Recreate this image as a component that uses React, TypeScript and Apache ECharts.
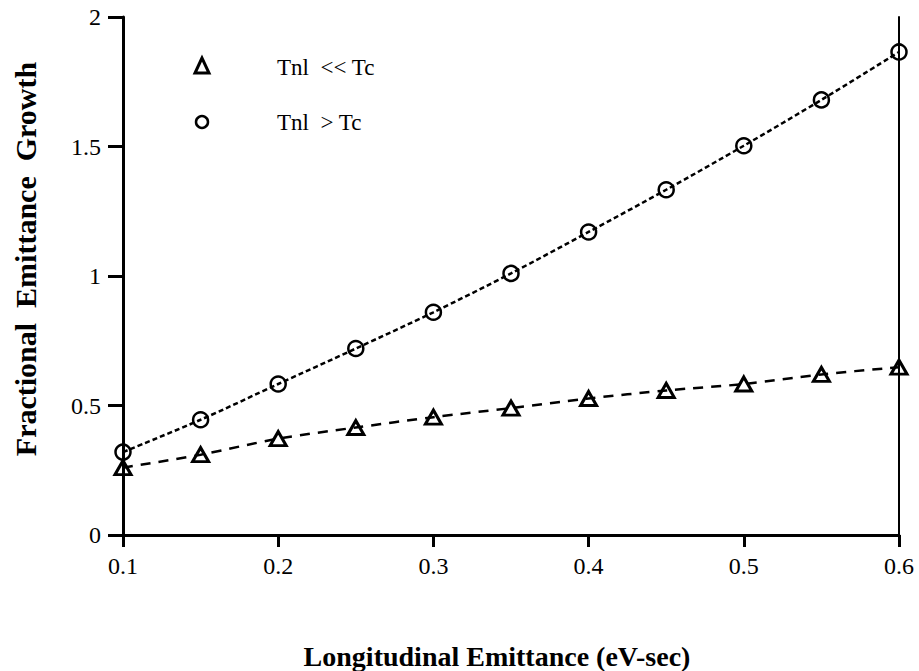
import React, { useEffect, useRef } from "react";
import * as echarts from "echarts";

const xValues = [0.1, 0.15, 0.2, 0.25, 0.3, 0.35, 0.4, 0.45, 0.5, 0.55, 0.6];
const circleValues = [0.32, 0.445, 0.583, 0.72, 0.86, 1.01, 1.17, 1.333, 1.503, 1.68, 1.865];
const triangleValues = [0.26, 0.31, 0.372, 0.415, 0.455, 0.49, 0.527, 0.558, 0.583, 0.62, 0.648];
const seriesNames = ["Tnl  << Tc", "Tnl  > Tc"];
const xTitle = "Longitudinal Emittance (eV-sec)";
const yTitle = "Fractional  Emittance  Growth";

const FONT = "'Liberation Serif', 'Times New Roman', serif";

export default function App() {
  const ref = useRef<HTMLDivElement>(null);
  useEffect(() => {
    if (!ref.current) return;
    const chart = echarts.init(ref.current, undefined, { renderer: "svg" });
    const pair = (ys: number[]) => xValues.map((x, i) => [x, ys[i]]);
    chart.setOption({
      animation: false,
      backgroundColor: "#fff",
      grid: { left: 123, right: 20, top: 17, bottom: 136 },
      xAxis: [
        {
          type: "value",
          min: 0.1,
          max: 0.6,
          interval: 0.1,
          axisLine: { show: true, lineStyle: { color: "#000", width: 3 } },
          axisTick: { show: true, inside: false, length: 12, lineStyle: { color: "#000", width: 3 } },
          axisLabel: {
            color: "#000",
            fontFamily: FONT,
            fontSize: 24,
            margin: 19,
            formatter: (v: number) => String(Math.round(v * 10) / 10),
          },
          splitLine: { show: false },
        },
        {
          type: "value",
          position: "top",
          min: 0.1,
          max: 0.6,
          axisLine: { show: true, lineStyle: { color: "#000", width: 2 } },
          axisTick: { show: false },
          axisLabel: { show: false },
          splitLine: { show: false },
        },
      ],
      yAxis: [
        {
          type: "value",
          min: 0,
          max: 2,
          interval: 0.5,
          axisLine: { show: true, lineStyle: { color: "#000", width: 3 } },
          axisTick: { show: true, inside: false, length: 15, lineStyle: { color: "#000", width: 3 } },
          axisLabel: { color: "#000", fontFamily: FONT, fontSize: 24, margin: 22 },
          splitLine: { show: false },
        },
        {
          type: "value",
          position: "right",
          min: 0,
          max: 2,
          axisLine: { show: true, lineStyle: { color: "#000", width: 2 } },
          axisTick: { show: false },
          axisLabel: { show: false },
          splitLine: { show: false },
        },
      ],
      series: [
        {
          name: seriesNames[0],
          type: "line",
          data: pair(triangleValues),
          smooth: 0.3,
          symbol: "triangle",
          symbolSize: [16, 14],
          lineStyle: { color: "#000", width: 2.5, type: [10, 8] },
          itemStyle: { color: "rgba(255,255,255,0)", borderColor: "#000", borderWidth: 3 },
          z: 3,
        },
        {
          name: seriesNames[1],
          type: "line",
          data: pair(circleValues),
          smooth: 0.3,
          symbol: "circle",
          symbolSize: 15,
          lineStyle: { color: "#000", width: 2.5, type: [5, 3] },
          itemStyle: { color: "rgba(255,255,255,0)", borderColor: "#000", borderWidth: 2.5 },
          z: 3,
        },
      ],
      graphic: [
        {
          type: "polygon",
          shape: { points: [[202, 58], [195, 73], [209, 73]] },
          style: { fill: "none", stroke: "#000", lineWidth: 3 },
        },
        {
          type: "circle",
          shape: { cx: 202, cy: 122, r: 6 },
          style: { fill: "none", stroke: "#000", lineWidth: 2.5 },
        },
        {
          type: "text",
          x: 277,
          y: 67,
          style: { text: seriesNames[0], font: `23px ${FONT}`, fill: "#000", verticalAlign: "middle", align: "left" },
        },
        {
          type: "text",
          x: 277,
          y: 122,
          style: { text: seriesNames[1], font: `23px ${FONT}`, fill: "#000", verticalAlign: "middle", align: "left" },
        },
        {
          type: "text",
          x: 497,
          y: 656,
          style: { text: xTitle, font: `bold 28px ${FONT}`, fill: "#000", verticalAlign: "middle", align: "center" },
        },
        {
          type: "text",
          x: 25,
          y: 259,
          rotation: Math.PI / 2,
          style: { text: yTitle, font: `bold 30px ${FONT}`, fill: "#000", verticalAlign: "middle", align: "center" },
        },
      ],
    });
    return () => chart.dispose();
  }, []);
  return (
    <div
      ref={ref}
      style={{ position: "fixed", left: 0, top: 0, width: 919, height: 671 }}
    />
  );
}
